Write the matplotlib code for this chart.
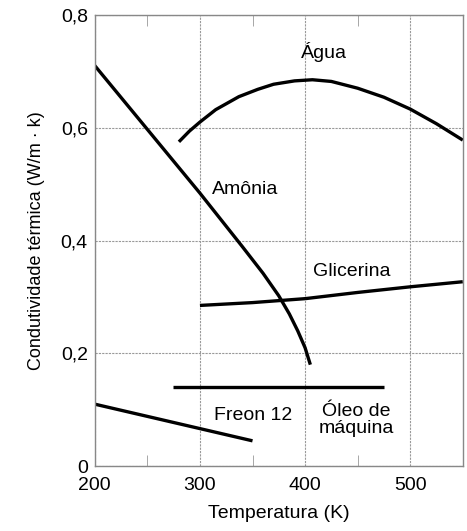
import matplotlib.pyplot as plt
import numpy as np

plt.rcParams['font.family'] = ['Liberation Sans', 'DejaVu Sans']

# values
agua_T = [280, 290, 300, 315, 337, 355, 370, 390, 407, 425, 450, 475, 500, 525, 550]
agua_k = [0.575, 0.594, 0.610, 0.632, 0.655, 0.668, 0.677, 0.683, 0.685, 0.682, 0.670, 0.654, 0.633, 0.607, 0.578]

amonia_T = [200, 250, 300, 340, 360, 375, 385, 393, 400, 405]
amonia_k = [0.710, 0.597, 0.484, 0.390, 0.342, 0.302, 0.270, 0.240, 0.210, 0.180]

glicerina_T = [300, 350, 400, 450, 500, 550]
glicerina_k = [0.285, 0.290, 0.297, 0.308, 0.318, 0.327]

oleo_T = [274, 475]
oleo_k = [0.140, 0.140]

freon_T = [200, 350]
freon_k = [0.110, 0.045]

x_ticks = [200, 300, 400, 500]
y_ticks = [0, 0.2, 0.4, 0.6, 0.8]
y_labels = ['0', '0,2', '0,4', '0,6', '0,8']

fig = plt.figure(figsize=(4.67, 5.31), dpi=100)
ax = fig.add_axes([0.203, 0.122, 0.788, 0.850])

for T, k in [(agua_T, agua_k), (amonia_T, amonia_k), (glicerina_T, glicerina_k),
             (oleo_T, oleo_k), (freon_T, freon_k)]:
    ax.plot(T, k, color='black', lw=2.4, solid_capstyle='butt')

fs = 14
ax.text(418, 0.735, 'Água', fontsize=fs, ha='center', va='center')
ax.text(343, 0.49, 'Amônia', fontsize=fs, ha='center', va='center')
ax.text(444, 0.345, 'Glicerina', fontsize=fs, ha='center', va='center')
ax.text(351, 0.09, 'Freon 12', fontsize=fs, ha='center', va='center')
ax.text(449, 0.082, 'Óleo de\nmáquina', fontsize=fs, ha='center', va='center',
        linespacing=1.05)

ax.set_xlim(200, 550)
ax.set_ylim(0, 0.8)
ax.set_xticks(x_ticks)
ax.set_yticks(y_ticks)
ax.set_yticklabels(y_labels)
ax.set_xticks([250, 350, 450], minor=True)
ax.tick_params(which='major', length=0, labelsize=14)
ax.tick_params(axis='x', which='major', pad=8)
ax.tick_params(axis='y', which='major', pad=5)
ax.tick_params(which='minor', direction='in', length=8, top=True, color='#999999')
ax.grid(True, which='major', color='#999999', ls=(0, (2, 1)), lw=0.8)

for s in ax.spines.values():
    s.set_color('#888888')
    s.set_linewidth(1.0)

ax.set_xlabel('Temperatura (K)', fontsize=14, labelpad=8)
ax.set_ylabel('Condutividade térmica (W/m · k)', fontsize=13, labelpad=11)

fig.savefig('out.png', dpi=100)
